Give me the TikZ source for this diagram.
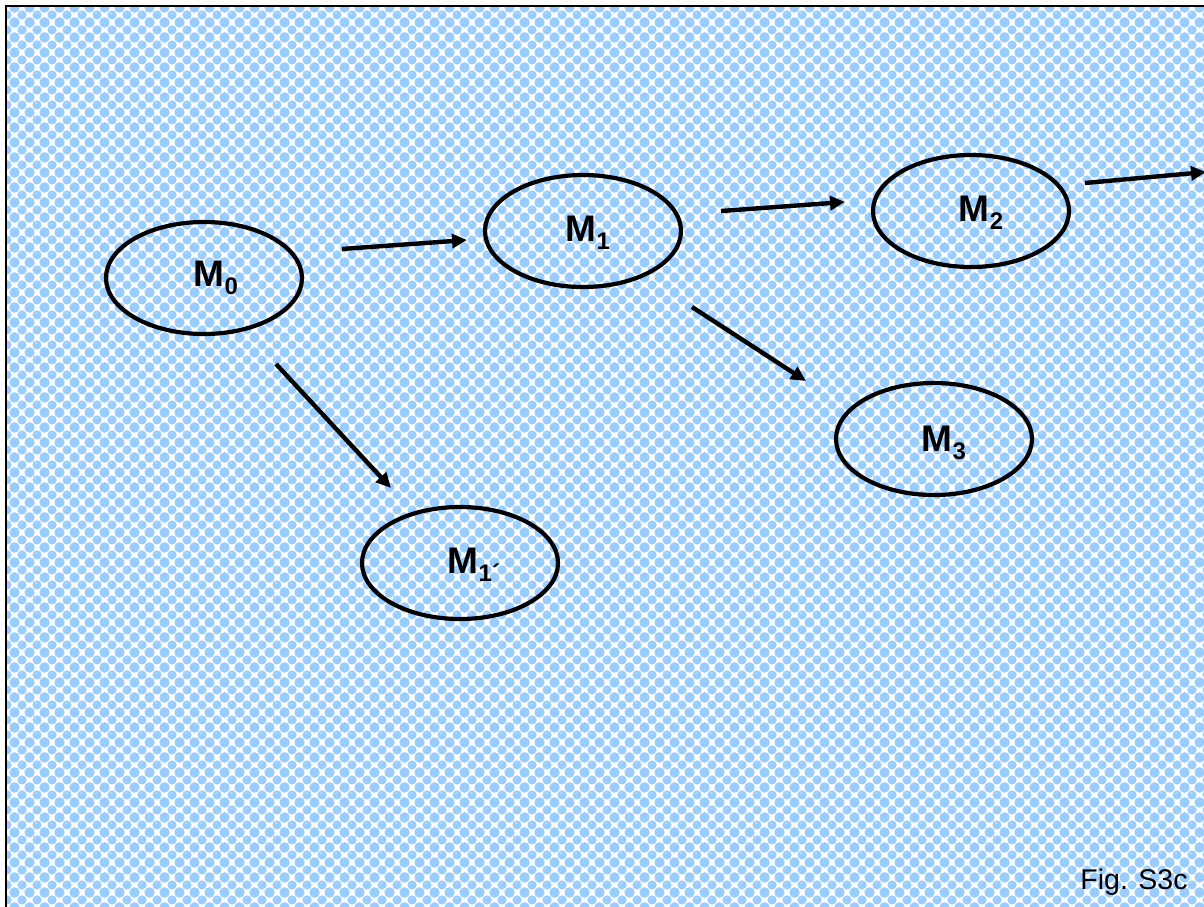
\documentclass[tikz,border=0pt]{standalone}
\usepackage{fontspec}
\setmainfont{Liberation Sans}
\usetikzlibrary{arrows.meta,shapes.geometric,patterns.meta}
\definecolor{bblue}{RGB}{153,204,255}
\definecolor{bhigh}{RGB}{190,224,255}
\tikzdeclarepattern{
  name=bubbles,
  type=colored,
  bottom left={(0pt,0pt)},
  top right={(15pt,15pt)},
  tile size={(15pt,15pt)},
  code={
    \fill[white] (0pt,0pt) rectangle (15pt,15pt);
    \fill[bblue] (0pt,0pt) circle (4.9pt);
    \fill[bblue] (15pt,0pt) circle (4.9pt);
    \fill[bblue] (0pt,15pt) circle (4.9pt);
    \fill[bblue] (15pt,15pt) circle (4.9pt);
    \fill[bblue] (7.5pt,7.5pt) circle (4.9pt);
    \fill[bhigh] (6.5pt,9.5pt) ellipse (1.6pt and 0.8pt);
  }
}
\newcommand\msub[1]{M\raisebox{-8pt}{\fontsize{24}{24}\selectfont #1}}
\tikzset{
  oval/.style={draw=black, line width=4.2pt, ellipse, minimum width=196pt, minimum height=112pt, inner sep=0pt},
  lbl/.style={font=\fontsize{37}{40}\selectfont\bfseries, inner sep=0pt},
  arr/.style={line width=4.4pt, -{Triangle[length=15pt,width=14pt]}},
}
\begin{document}
\begin{tikzpicture}[x=1pt,y=-1pt]
\useasboundingbox (0,0) rectangle (1204,906);
\clip (0,0) rectangle (1204,906);
\fill[pattern=bubbles] (6,6) rectangle (1220,920);
\draw[line width=1.5pt] (6,6) rectangle (1220,920);

\node[oval] (M0) at (204,278) {};
\node[oval] (M1) at (583,231) {};
\node[oval] (M2) at (971,211) {};
\node[oval] (M3) at (934,439) {};
\node[oval] (M1p) at (460,563) {};

\node[lbl] (M0t) at (216,278) {\msub{0}};
\node[lbl] (M1t) at (588,233) {\msub{1}};
\node[lbl] (M2t) at (981,213) {\msub{2}};
\node[lbl] (M3t) at (944,443) {\msub{3}};
\node[lbl] (M1pt) at (474,565) {\msub{1´}};

\coordinate (a1s) at (342,249); \coordinate (a1e) at (467,240);
\coordinate (a2s) at (721,211); \coordinate (a2e) at (845,202);
\coordinate (a3s) at (1085,183); \coordinate (a3e) at (1206,172);
\coordinate (a4s) at (692,307); \coordinate (a4e) at (806,381);
\coordinate (a5s) at (276,364); \coordinate (a5e) at (391,488);

\draw[arr] (a1s) -- (a1e);
\draw[arr] (a2s) -- (a2e);
\draw[arr] (a3s) -- (a3e);
\draw[arr] (a4s) -- (a4e);
\draw[arr] (a5s) -- (a5e);

\node[font=\fontsize{28.5}{31}\selectfont, inner sep=0pt] (fig) at (1134,882) {Fig. S3c};
\end{tikzpicture}
\end{document}
